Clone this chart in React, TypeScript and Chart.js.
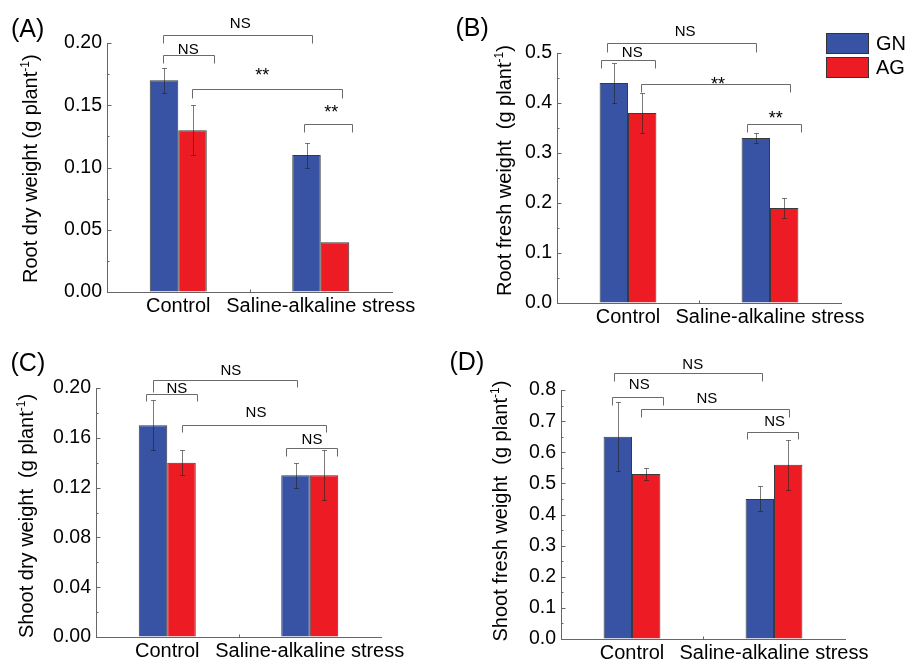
import React, { useEffect, useRef } from "react";
import { Chart, registerables } from "chart.js";
Chart.register(...registerables);

const W = 909;
const H = 660;
const FONT = "'Liberation Sans', Arial, Helvetica, sans-serif";
const BLUE = "#3853A4";
const RED = "#ED1C24";
const AXIS = "#666666";
const Y_W = 80;
const X_H = 30;

// ---- data ----
const categories = ["Control", "Saline-alkaline stress"];
const seriesNames = ["GN", "AG"];

const rootDryGN = [0.17, 0.11];
const rootDryAG = [0.13, 0.04];
const rootDryErrGN = [0.01, 0.01];
const rootDryErrAG = [0.02, 0];

const rootFreshGN = [0.44, 0.33];
const rootFreshAG = [0.38, 0.19];
const rootFreshErrGN = [0.04, 0.01];
const rootFreshErrAG = [0.04, 0.02];

const shootDryGN = [0.17, 0.13];
const shootDryAG = [0.14, 0.13];
const shootDryErrGN = [0.02, 0.01];
const shootDryErrAG = [0.01, 0.02];

const shootFreshGN = [0.65, 0.45];
const shootFreshAG = [0.53, 0.56];
const shootFreshErrGN = [0.11, 0.04];
const shootFreshErrAG = [0.02, 0.08];

// significance brackets: x in category units (0 = Control, 1 = Saline), y in value units
type Bracket = { x1: number; x2: number; y: number; end1: number; end2: number; label: string; tx: number; ty: number };

const bracketsA: Bracket[] = [
  { x1: -0.105, x2: 0.942, y: 0.2062, end1: 0.1998, end2: 0.1998, label: "NS", tx: 0.435, ty: 0.2204 },
  { x1: -0.105, x2: 0.253, y: 0.1901, end1: 0.1837, end2: 0.1837, label: "NS", tx: 0.07, ty: 0.1995 },
  { x1: 0.098, x2: 1.151, y: 0.1629, end1: 0.1556, end2: 0.1556, label: "**", tx: 0.589, ty: 0.1797 },
  { x1: 0.884, x2: 1.221, y: 0.1348, end1: 0.1284, end2: 0.1284, label: "**", tx: 1.074, ty: 0.15 },
];
const bracketsB: Bracket[] = [
  { x1: -0.145, x2: 0.9, y: 0.5198, end1: 0.503, end2: 0.503, label: "NS", tx: 0.402, ty: 0.5531 },
  { x1: -0.189, x2: 0.191, y: 0.4864, end1: 0.4697, end2: 0.4697, label: "NS", tx: 0.03, ty: 0.5118 },
  { x1: 0.091, x2: 1.138, y: 0.4383, end1: 0.4228, end2: 0.4228, label: "**", tx: 0.633, ty: 0.4517 },
  { x1: 0.835, x2: 1.215, y: 0.3575, end1: 0.3415, end2: 0.3415, label: "**", tx: 1.04, ty: 0.3842 },
];
const bracketsC: Bracket[] = [
  { x1: -0.102, x2: 0.909, y: 0.2061, end1: 0.1965, end2: 0.201, label: "NS", tx: 0.447, ty: 0.2187 },
  { x1: -0.149, x2: 0.209, y: 0.1954, end1: 0.1892, end2: 0.1892, label: "NS", tx: 0.067, ty: 0.204 },
  { x1: 0.106, x2: 1.114, y: 0.1705, end1: 0.1646, end2: 0.1646, label: "NS", tx: 0.623, ty: 0.1847 },
  { x1: 0.83, x2: 1.188, y: 0.1517, end1: 0.145, end2: 0.145, label: "NS", tx: 1.016, ty: 0.163 },
];
const bracketsD: Bracket[] = [
  { x1: -0.13, x2: 0.918, y: 0.8556, end1: 0.8299, end2: 0.8299, label: "NS", tx: 0.428, ty: 0.8986 },
  { x1: -0.139, x2: 0.217, y: 0.7766, end1: 0.7518, end2: 0.7518, label: "NS", tx: 0.051, ty: 0.8353 },
  { x1: 0.063, x2: 1.104, y: 0.738, end1: 0.7123, end2: 0.7123, label: "NS", tx: 0.527, ty: 0.7894 },
  { x1: 0.809, x2: 1.166, y: 0.666, end1: 0.6416, end2: 0.6416, label: "NS", tx: 1.004, ty: 0.7165 },
];

type Panel = {
  key: string;
  letter: string;
  titleMain: string;
  gn: number[];
  ag: number[];
  errGN: number[];
  errAG: number[];
  yMax: number;
  yStep: number;
  decimals: number;
  brackets: Bracket[];
  area: { left: number; top: number; right: number; bottom: number };
  titleX: number;
  titleY: number;
  letterX: number;
  letterY: number;
  legend: boolean;
};

const panels: Panel[] = [
  {
    key: "A", letter: "(A)", titleMain: "Root dry weight (g plant",
    gn: rootDryGN, ag: rootDryAG, errGN: rootDryErrGN, errAG: rootDryErrAG,
    yMax: 0.2, yStep: 0.05, decimals: 2, brackets: bracketsA,
    area: { left: 107, top: 43, right: 392, bottom: 292 },
    titleX: 36.5, titleY: 283, letterX: 11, letterY: 37, legend: false,
  },
  {
    key: "B", letter: "(B)", titleMain: "Root fresh weight  (g plant",
    gn: rootFreshGN, ag: rootFreshAG, errGN: rootFreshErrGN, errAG: rootFreshErrAG,
    yMax: 0.5, yStep: 0.1, decimals: 1, brackets: bracketsB,
    area: { left: 557, top: 53, right: 841, bottom: 303 },
    titleX: 511, titleY: 296, letterX: 455.5, letterY: 36, legend: true,
  },
  {
    key: "C", letter: "(C)", titleMain: "Shoot dry weight  (g plant",
    gn: shootDryGN, ag: shootDryAG, errGN: shootDryErrGN, errAG: shootDryErrAG,
    yMax: 0.2, yStep: 0.04, decimals: 2, brackets: bracketsC,
    area: { left: 96, top: 388, right: 381, bottom: 637 },
    titleX: 33.3, titleY: 638, letterX: 10.5, letterY: 370.5, legend: false,
  },
  {
    key: "D", letter: "(D)", titleMain: "Shoot fresh weight  (g plant",
    gn: shootFreshGN, ag: shootFreshAG, errGN: shootFreshErrGN, errAG: shootFreshErrAG,
    yMax: 0.8, yStep: 0.1, decimals: 1, brackets: bracketsD,
    area: { left: 561, top: 390, right: 845, bottom: 639 },
    titleX: 506.7, titleY: 641.5, letterX: 449.5, letterY: 370, legend: false,
  },
];

function makePlugin(p: Panel) {
  return {
    id: "decor" + p.key,
    afterDatasetsDraw(chart: any) {
      const ctx = chart.ctx as CanvasRenderingContext2D;
      const ys = chart.scales.y;
      ctx.save();
      ctx.strokeStyle = "rgba(35,35,35,0.6)";
      ctx.lineWidth = 1;
      [p.errGN, p.errAG].forEach((errs, di) => {
        const meta = chart.getDatasetMeta(di);
        const vals = chart.data.datasets[di].data as number[];
        meta.data.forEach((bar: any, j: number) => {
          const e = errs[j];
          if (!e) return;
          const x = Math.round(bar.x) + 0.5;
          const yT = Math.round(ys.getPixelForValue(vals[j] + e)) + 0.5;
          const yB = Math.round(ys.getPixelForValue(vals[j] - e)) + 0.5;
          ctx.beginPath();
          ctx.moveTo(x, yT);
          ctx.lineTo(x, yB);
          ctx.stroke();
          ctx.beginPath();
          ctx.moveTo(x - 2.5, yT);
          ctx.lineTo(x + 2.5, yT);
          ctx.moveTo(x - 2.5, yB);
          ctx.lineTo(x + 2.5, yB);
          ctx.stroke();
        });
      });
      ctx.restore();
    },
    afterDraw(chart: any) {
      const ctx = chart.ctx as CanvasRenderingContext2D;
      const ys = chart.scales.y;
      const xs = chart.scales.x;
      const ca = chart.chartArea;
      ctx.save();
      // inward y ticks (major + minor)
      ctx.strokeStyle = AXIS;
      ctx.lineWidth = 1;
      const half = p.yStep / 2;
      const n = Math.round(p.yMax / half);
      const axX = Math.round(ca.left) + 0.5;
      ctx.beginPath();
      for (let i = 1; i <= n; i++) {
        const y = Math.round(ys.getPixelForValue(i * half)) + 0.5;
        const len = i % 2 === 0 ? 4 : 2;
        ctx.moveTo(axX, y);
        ctx.lineTo(axX + len, y);
      }
      // small tick between categories on x axis
      const p0 = xs.getPixelForValue(0);
      const p1 = xs.getPixelForValue(1);
      const mid = Math.round((p0 + p1) / 2) + 0.5;
      const axY = Math.round(ca.bottom) + 0.5;
      ctx.moveTo(mid, axY);
      ctx.lineTo(mid, axY - 3);
      ctx.stroke();

      // brackets
      const fx = (v: number) => p0 + v * (p1 - p0);
      ctx.strokeStyle = "#6a6a6a";
      p.brackets.forEach((b) => {
        const xa = Math.round(fx(b.x1)) + 0.5;
        const xb = Math.round(fx(b.x2)) + 0.5;
        const yl = Math.round(ys.getPixelForValue(b.y)) + 0.5;
        const y1 = Math.round(ys.getPixelForValue(b.end1)) + 0.5;
        const y2 = Math.round(ys.getPixelForValue(b.end2)) + 0.5;
        ctx.beginPath();
        ctx.moveTo(xa, y1);
        ctx.lineTo(xa, yl);
        ctx.lineTo(xb, yl);
        ctx.lineTo(xb, y2);
        ctx.stroke();
        ctx.fillStyle = "#000";
        ctx.font = `${b.label === "**" ? 18 : 15}px ${FONT}`;
        ctx.textAlign = "center";
        ctx.textBaseline = "alphabetic";
        const m = ctx.measureText(b.label);
        ctx.fillText(b.label, fx(b.tx), ys.getPixelForValue(b.ty) + m.actualBoundingBoxAscent);
      });

      // y title with superscript
      ctx.save();
      ctx.translate(p.titleX, p.titleY);
      ctx.rotate(-Math.PI / 2);
      ctx.fillStyle = "#000";
      ctx.textAlign = "left";
      ctx.textBaseline = "alphabetic";
      ctx.font = `20px ${FONT}`;
      ctx.fillText(p.titleMain, 0, 0);
      let w = ctx.measureText(p.titleMain).width;
      ctx.font = `12px ${FONT}`;
      ctx.fillText("-1", w, -8);
      w += ctx.measureText("-1").width;
      ctx.font = `20px ${FONT}`;
      ctx.fillText(")", w, 0);
      ctx.restore();

      // panel letter
      ctx.fillStyle = "#000";
      ctx.font = `25px ${FONT}`;
      ctx.textAlign = "left";
      ctx.textBaseline = "alphabetic";
      ctx.fillText(p.letter, p.letterX, p.letterY);

      // legend
      if (p.legend) {
        const cols = [BLUE, RED];
        const tops = [33, 57];
        seriesNames.forEach((name, i) => {
          ctx.fillStyle = cols[i];
          ctx.fillRect(826, tops[i], 43, 21);
          ctx.strokeStyle = "#333";
          ctx.strokeRect(826.5, tops[i] + 0.5, 42, 20);
          ctx.fillStyle = "#000";
          ctx.font = `20px ${FONT}`;
          ctx.textAlign = "left";
          ctx.textBaseline = "middle";
          ctx.fillText(name, 876, tops[i] + 11);
        });
      }
      ctx.restore();
    },
  };
}

function PanelChart({ p }: { p: Panel }) {
  const ref = useRef<HTMLCanvasElement | null>(null);
  useEffect(() => {
    if (!ref.current) return;
    const chart = new Chart(ref.current, {
      type: "bar",
      data: {
        labels: categories,
        datasets: [
          { label: seriesNames[0], data: p.gn, backgroundColor: BLUE, borderColor: "#3a3a3a", borderWidth: 1, categoryPercentage: 0.4, barPercentage: 1 },
          { label: seriesNames[1], data: p.ag, backgroundColor: RED, borderColor: "#3a3a3a", borderWidth: 1, categoryPercentage: 0.4, barPercentage: 1 },
        ],
      },
      options: {
        responsive: false,
        animation: false,
        devicePixelRatio: 1,
        layout: {
          padding: {
            left: p.area.left - Y_W,
            top: p.area.top,
            right: W - p.area.right,
            bottom: H - p.area.bottom - X_H,
          },
        },
        plugins: { legend: { display: false }, tooltip: { enabled: false } },
        scales: {
          x: {
            type: "category",
            offset: true,
            grid: { drawOnChartArea: false, drawTicks: false },
            border: { color: AXIS, width: 1 },
            ticks: { color: "#000", font: { family: FONT, size: 20 }, padding: 2, maxRotation: 0, minRotation: 0, autoSkip: false },
            afterFit: (s: any) => { s.height = X_H; },
          },
          y: {
            min: 0,
            max: p.yMax,
            grid: { drawOnChartArea: false, drawTicks: false },
            border: { color: AXIS, width: 1 },
            ticks: {
              stepSize: p.yStep,
              color: "#000",
              font: { family: FONT, size: 19.5 },
              padding: 5,
              callback: (v: any) => Number(v).toFixed(p.decimals),
            },
            afterFit: (s: any) => { s.width = Y_W; },
          },
        },
      } as any,
      plugins: [makePlugin(p)],
    });
    return () => chart.destroy();
  }, [p]);
  return (
    <canvas
      ref={ref}
      width={W}
      height={H}
      style={{ position: "absolute", left: 0, top: 0, width: W, height: H }}
    />
  );
}

export default function App() {
  return (
    <div style={{ position: "fixed", left: 0, top: 0, width: W, height: H, background: "#fff", overflow: "hidden" }}>
      {panels.map((p) => (
        <PanelChart key={p.key} p={p} />
      ))}
    </div>
  );
}
